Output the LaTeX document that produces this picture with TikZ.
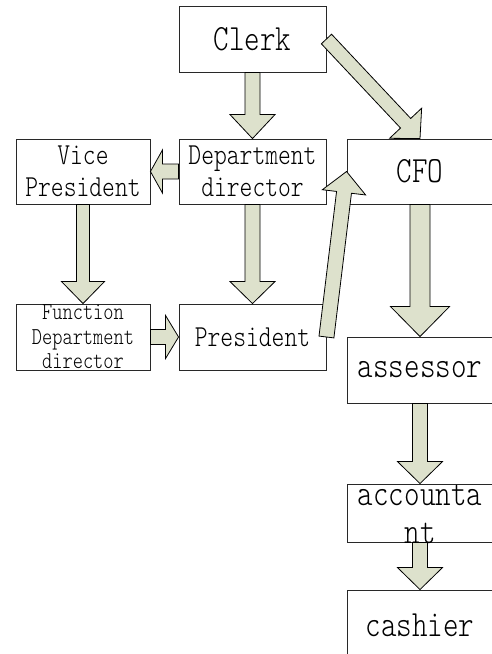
\documentclass[tikz,border=0pt]{standalone}
\usepackage{fontspec}
\newfontfamily\refmono{Latin Modern Mono Light}[FakeStretch=0.8]
\usetikzlibrary{calc}
\definecolor{arrowfill}{RGB}{221,225,204}
\definecolor{edgecol}{RGB}{40,40,40}
\tikzset{
  box/.style={draw=edgecol, line width=0.9pt, rectangle, inner sep=0pt, align=center, fill=white},
  big/.style={font=\refmono\fontsize{37}{38}\selectfont},
  mid/.style={font=\refmono\fontsize{30.5}{32}\selectfont},
  small/.style={font=\refmono\fontsize{24.3}{24.5}\selectfont},
  blockarrow/.style={draw=black, line width=0.8pt, fill=arrowfill, line join=miter}
}
% #1 start, #2 tip, #3 shaft half width, #4 head half width, #5 head length
\newcommand\blockarrow[5]{%
  \coordinate (ba-s) at #1;
  \coordinate (ba-e) at #2;
  \coordinate (ba-h) at ($(ba-e)!#5!(ba-s)$);
  \draw[blockarrow] ($(ba-s)!#3!90:(ba-e)$) -- ($(ba-h)!#3!-90:(ba-s)$)
    -- ($(ba-h)!#4!-90:(ba-s)$) -- (ba-e) -- ($(ba-h)!#4!90:(ba-s)$)
    -- ($(ba-h)!#3!90:(ba-s)$) -- ($(ba-s)!#3!-90:(ba-e)$) -- cycle;
}
\begin{document}
\begin{tikzpicture}[x=1pt, y=-1pt]
\useasboundingbox (0,0) rectangle (492,654);
\clip (0,0) rectangle (492,654);
\fill[white] (0,0) rectangle (492,654);

\node[box, big, minimum width=147pt, minimum height=66pt] (clerk) at (252.5,39) {Clerk};
\node[box, mid, minimum width=147pt, minimum height=65pt] (dept) at (252.5,171.5) {Department\\director};
\node[box, mid, minimum width=134pt, minimum height=65pt] (vice) at (83,171.5) {Vice\\President};
\node[box, big, minimum width=146pt, minimum height=65pt] (cfo) at (420,171.5) {CFO};
\node[box, small, minimum width=134pt, minimum height=66pt] (func) at (83,337) {Function\\Department\\director};
\node[box, mid, minimum width=147pt, minimum height=66pt] (pres) at (252.5,337) {President};
\node[box, big, minimum width=146pt, minimum height=66pt] (assess) at (420,370) {assessor};
\node[box, minimum width=146pt, minimum height=58pt] (acct) at (420,513) {};
\node[big, align=center, inner sep=0pt] (accttext) at (420,514) {accounta\\nt};
\node[box, big, minimum width=146pt, minimum height=70pt] (cash) at (420,625) {cashier};

\blockarrow{(clerk.south)}{(dept.north)}{7.5pt}{22.5pt}{24pt}
\blockarrow{(clerk.east)}{(cfo.north)}{7pt}{22pt}{21pt}
\blockarrow{(dept.west)}{(vice.east)}{7.5pt}{21.5pt}{12pt}
\blockarrow{(vice.south)}{(func.north)}{6.5pt}{21.5pt}{22pt}
\blockarrow{(dept.south)}{(pres.north)}{7.5pt}{22.5pt}{22pt}
\blockarrow{(func.east)}{(pres.west)}{7.5pt}{21.5pt}{13pt}
\blockarrow{(pres.east)}{(cfo.west)}{7.5pt}{21.8pt}{21pt}
\blockarrow{(cfo.south)}{(assess.north)}{10pt}{29.5pt}{30pt}
\blockarrow{(assess.south)}{(acct.north)}{7.5pt}{22.5pt}{22pt}
\blockarrow{(acct.south)}{(cash.north)}{7.5pt}{22.5pt}{22pt}
\end{tikzpicture}
\end{document}
